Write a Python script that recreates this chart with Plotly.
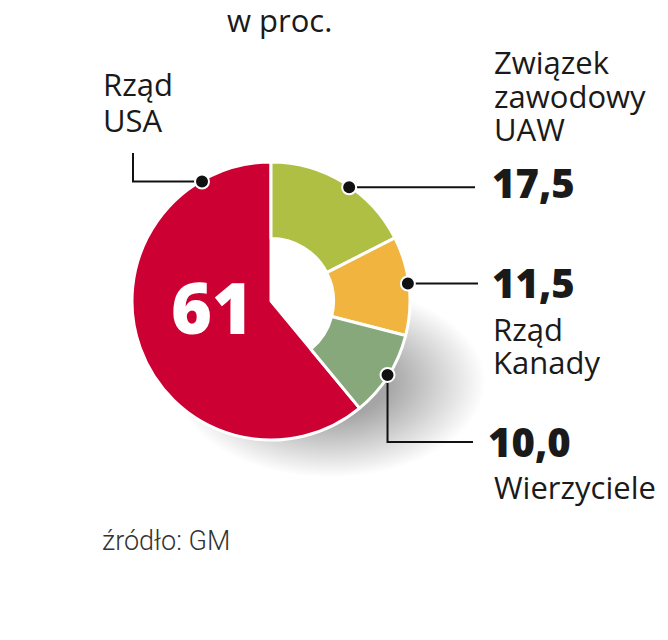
import math
import plotly.graph_objects as go

# ---- data ----
categories = ["Związek zawodowy UAW", "Rząd Kanady", "Wierzyciele", "Rząd USA"]
values = [17.5, 11.5, 10.0, 61.0]
value_labels = ["17,5", "11,5", "10,0", "61"]
colors = ["#aebf44", "#f0b43f", "#86a87a", "#cc0033"]

title_text = "w proc."
source_text = "źródło: GM"

W, H = 668, 640
OFF = 8  # page body margin compensation
CX, CY, R = 271, 301, 139
HOLE = 0.45

FONT = "Open Sans"
TXT = "#1a1a1a"

fig = go.Figure()


def dom():
    return dict(x=[(CX - OFF - R) / W, (CX - OFF + R) / W],
                y=[1 - (CY - OFF + R) / H, 1 - (CY - OFF - R) / H])


transparent = "rgba(0,0,0,0)"
# full pie: only the "Rząd USA" wedge visible (reaches the centre)
fig.add_trace(go.Pie(
    labels=categories, values=values, sort=False, direction="clockwise", rotation=0,
    marker=dict(colors=[transparent, transparent, transparent, colors[3]],
                line=dict(color=[transparent] * 3 + ["white"], width=[0, 0, 0, 3])),
    hole=0, textinfo="none", hoverinfo="skip", showlegend=False, domain=dom(),
))
# ring for the other three slices
fig.add_trace(go.Pie(
    labels=categories, values=values, sort=False, direction="clockwise", rotation=0,
    marker=dict(colors=colors[:3] + [transparent],
                line=dict(color=["white"] * 3 + [transparent], width=[3, 3, 3, 0])),
    hole=HOLE, textinfo="none", hoverinfo="skip", showlegend=False, domain=dom(),
))

shapes = []
# soft shadow (stack of very faint ellipses) at the lower right, below the pie
SCX, SCY, SRX, SRY = 330, 382, 155, 95
for i in range(45):
    s = 1.0 - i * 0.014
    shapes.append(dict(type="circle", xref="x", yref="y", layer="below",
                       x0=SCX - SRX * s, x1=SCX + SRX * s, y0=SCY - SRY * s, y1=SCY + SRY * s,
                       fillcolor="rgba(0,0,0,0.009)", line=dict(width=0)))
# white hole
hr = R * HOLE
shapes.append(dict(type="circle", xref="x", yref="y", layer="below",
                   x0=CX - hr - 2, x1=CX + hr + 2, y0=CY - hr - 2, y1=CY + hr + 2,
                   fillcolor="white", line=dict(width=0)))

# slice angles (clockwise from 12 o'clock)
total = sum(values)
starts, acc = [], 0.0
for v in values:
    starts.append(acc / total * 360)
    acc += v
mids = [starts[i] + values[i] / total * 180 for i in range(len(values))]


def on_circle(angle_deg, r=R):
    a = math.radians(angle_deg)
    return CX + r * math.sin(a), CY - r * math.cos(a)


dot_angles = [mids[0] + 3, mids[1] - 1, mids[2], 330]
dots = [on_circle(a, R - 1) for a in dot_angles]

line_style = dict(color="#111111", width=2)
(gx, gy), (ox, oy), (sx, sy), (rx_, ry_) = dots
shapes.append(dict(type="line", xref="x", yref="y", layer="above", x0=gx, y0=gy, x1=475, y1=gy, line=line_style))
shapes.append(dict(type="line", xref="x", yref="y", layer="above", x0=ox, y0=oy, x1=478, y1=oy, line=line_style))
shapes.append(dict(type="path", xref="x", yref="y", layer="above",
                   path=f"M {sx},{sy} L {sx},442 L 473,442", line=line_style))
shapes.append(dict(type="path", xref="x", yref="y", layer="above",
                   path=f"M 133,153 L 133,{ry_} L {rx_},{ry_}", line=line_style))
for (x, y) in dots:
    rr = 7
    shapes.append(dict(type="circle", xref="x", yref="y", layer="above",
                       x0=x - rr, x1=x + rr, y0=y - rr, y1=y + rr,
                       fillcolor="#111111", line=dict(color="white", width=2)))

annotations = []


def txt(text, x, y, size, bold=False, color=TXT, family=FONT, xanchor="left", weight=None):
    annotations.append(dict(
        text=text, x=x, y=y, xref="x", yref="y", xanchor=xanchor, yanchor="middle",
        showarrow=False,
        font=dict(family=family, size=size, color=color,
                  weight=weight if weight is not None else (800 if bold else 400)),
    ))


LS = 31
NS = 40
txt(title_text, 225, 20, LS)
txt("Rząd", 101, 84, LS)
txt("USA", 101, 120, LS)
txt("Związek", 492, 62, LS)
txt("zawodowy", 492, 96, LS)
txt("UAW", 492, 129, LS)
txt(value_labels[0], 490, 182, NS, bold=True)
txt(value_labels[1], 490, 282, NS, bold=True)
txt("Rząd", 491, 329, LS)
txt("Kanady", 491, 362, LS)
txt(value_labels[2], 486, 441, NS, bold=True)
txt("Wierzyciele", 492, 487, LS)
txt(value_labels[3], 212, 307, 70, bold=True, color="white", xanchor="center")
txt(source_text, 100, 541, 27, family="Roboto", color="#333333", weight=300)

fig.update_layout(
    width=W, height=H, margin=dict(l=0, r=0, t=0, b=0),
    paper_bgcolor="white", plot_bgcolor="white",
    xaxis=dict(range=[OFF, W + OFF], visible=False, fixedrange=True),
    yaxis=dict(range=[H + OFF, OFF], visible=False, fixedrange=True),
    shapes=shapes, annotations=annotations, showlegend=False,
)

fig.write_html("out.html")
